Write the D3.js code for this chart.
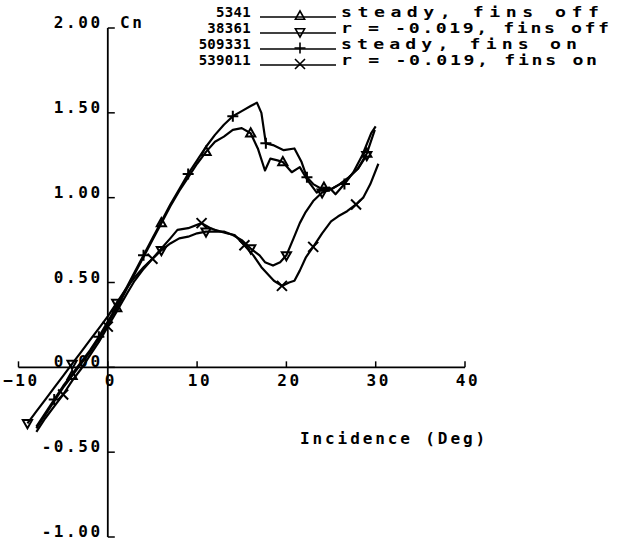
<!DOCTYPE html>
<html>
<head>
<meta charset="utf-8">
<script src="https://cdn.jsdelivr.net/npm/d3@7"></script>
<style>
  html, body { margin: 0; padding: 0; background: #fff; }
  svg { display: block; }
  text { font-family: "DejaVu Sans Mono", "Liberation Mono", monospace; fill: #000; font-weight: bold; }
</style>
</head>
<body>
<svg id="chart" width="624" height="541"></svg>
<script>
// Normal-force coefficient Cn against incidence, four wind-tunnel runs.
// Each series: [incidence (deg), Cn]
const steadyFinsOff = [
  [-8, -0.36], [-7, -0.28], [-6, -0.20], [-5, -0.12], [-4, -0.05], [-3, 0.02],
  [-2, 0.09], [-1, 0.17], [0, 0.26], [1, 0.35], [2, 0.45], [3, 0.55], [4, 0.65],
  [5, 0.75], [6, 0.85], [7, 0.95], [8, 1.04], [9, 1.12], [10, 1.20], [11, 1.27],
  [12, 1.33], [13, 1.36], [14, 1.40], [15, 1.41], [16, 1.38], [16.8, 1.29],
  [17.6, 1.16], [18.2, 1.23], [19, 1.22], [19.6, 1.21], [20.6, 1.15], [21.5, 1.18],
  [22.4, 1.10], [23.4, 1.03], [24.2, 1.06], [25, 1.05], [26, 1.08], [27, 1.12],
  [28, 1.17], [29, 1.26], [29.9, 1.40]
];
const oscFinsOff = [
  [-9, -0.33], [-8, -0.26], [-7, -0.19], [-6, -0.12], [-5, -0.05], [-4, 0.02],
  [-3, 0.09], [-2, 0.16], [-1, 0.23], [0, 0.30], [1, 0.38], [2, 0.46], [3, 0.53],
  [4, 0.59], [5, 0.64], [6, 0.69], [7, 0.73], [8, 0.76], [9, 0.77], [10, 0.79],
  [11, 0.80], [12, 0.80], [13, 0.80], [14, 0.78], [15, 0.75], [16, 0.70],
  [17, 0.66], [17.6, 0.62], [18.5, 0.60], [19.3, 0.62], [20, 0.66], [20.8, 0.76],
  [21.5, 0.85], [22.1, 0.91], [23, 0.98], [24, 1.03], [25, 1.05], [26, 1.08],
  [27, 1.12], [28, 1.17], [29, 1.25]
];
const steadyFinsOn = [
  [-8, -0.35], [-7, -0.27], [-6, -0.19], [-5, -0.11], [-4, -0.04], [-3, 0.03],
  [-2, 0.10], [-1, 0.18], [0, 0.27], [1, 0.36], [2, 0.46], [3, 0.56], [4, 0.66],
  [5, 0.76], [6, 0.86], [7, 0.96], [8, 1.05], [9, 1.14], [10, 1.22], [11, 1.30],
  [12, 1.37], [13, 1.43], [14, 1.48], [15, 1.51], [16, 1.54], [16.7, 1.56],
  [17.2, 1.50], [17.7, 1.32], [18.5, 1.31], [19.7, 1.28], [20.9, 1.29],
  [21.7, 1.21], [22.3, 1.12], [23, 1.08], [24, 1.05], [24.8, 1.06], [25.5, 1.02],
  [26.5, 1.08], [27.5, 1.15], [28.5, 1.25], [29.5, 1.38], [30, 1.42]
];
const oscFinsOn = [
  [-8, -0.38], [-7, -0.30], [-6, -0.23], [-5, -0.16], [-4, -0.08], [-3, -0.01],
  [-2, 0.07], [-1, 0.15], [0, 0.24], [1, 0.33], [2.2, 0.44], [3, 0.51], [4, 0.58],
  [5, 0.64], [6, 0.70], [7, 0.76], [7.8, 0.81], [9, 0.82], [10.5, 0.85],
  [11.5, 0.82], [12, 0.81], [13.3, 0.79], [14.2, 0.78], [15.3, 0.72], [16.3, 0.66],
  [17.2, 0.59], [17.9, 0.55], [18.6, 0.51], [19.5, 0.48], [20.3, 0.50],
  [20.9, 0.51], [21.5, 0.57], [22.2, 0.65], [23, 0.71], [24, 0.79], [25, 0.86],
  [25.8, 0.89], [26.8, 0.92], [27.8, 0.96], [28.6, 1.00], [29.4, 1.08], [30.3, 1.20]
];

const runNumbers = ["5341", "38361", "509331", "539011"];
const runLabels = ["steady, fins off", "r = -0.019, fins off", "steady, fins on", "r = -0.019, fins on"];
const xTickValues = [-10, 0, 10, 20, 30, 40];
const yTickValues = [2, 1.5, 1, 0.5, 0, -0.5, -1];
const yTickLabels = ["2.00", "1.50", "1.00", "0.50", "0.00", "-0.50", "-1.00"];

// Marker glyphs drawn in plotter style
const glyphs = {
  triUp: "M0,-5L4.6,3.2L-4.6,3.2Z",
  triDown: "M0,5L4.6,-3.2L-4.6,-3.2Z",
  plus: "M-5.5,0H5.5M0,-5.5V5.5",
  cross: "M-5,-5L5,5M-5,5L5,-5"
};
const series = [
  { data: steadyFinsOff, glyph: "triUp", offset: 1 },
  { data: oscFinsOff, glyph: "triDown", offset: 0 },
  { data: steadyFinsOn, glyph: "plus", offset: 3 },
  { data: oscFinsOn, glyph: "cross", offset: 2 }
];

const svg = d3.select("#chart");
const x = d3.scaleLinear().domain([-10, 40]).range([18.5, 465]);
const y = d3.scaleLinear().domain([-1, 2]).range([537, 28]);

const ink = "#000";

// Y axis: vertical line with short ticks pointing right
const yAxis = svg.append("g").attr("transform", `translate(${x(0)},0)`);
yAxis.append("line").attr("x1", 0).attr("x2", 0).attr("y1", y(2)).attr("y2", y(-1))
  .attr("stroke", ink).attr("stroke-width", 1.8);
yAxis.selectAll("line.tick").data(yTickValues).join("line").attr("class", "tick")
  .attr("x1", 0).attr("x2", 7).attr("y1", d => y(d)).attr("y2", d => y(d))
  .attr("stroke", ink).attr("stroke-width", 1.5);
yAxis.selectAll("text").data(yTickValues).join("text")
  .attr("x", -5).attr("y", d => y(d))
  .attr("text-anchor", "end").attr("font-size", 16).attr("letter-spacing", 2.6)
  .text((d, i) => yTickLabels[i]);

// X axis through Cn = 0 with short upward ticks
const xAxis = svg.append("g").attr("transform", `translate(0,${y(0)})`);
xAxis.append("line").attr("x1", x(-10)).attr("x2", x(40)).attr("y1", 0).attr("y2", 0)
  .attr("stroke", ink).attr("stroke-width", 1.6);
xAxis.selectAll("line.tick").data(xTickValues).join("line").attr("class", "tick")
  .attr("x1", d => x(d)).attr("x2", d => x(d)).attr("y1", 0).attr("y2", -6)
  .attr("stroke", ink).attr("stroke-width", 1.5);
xAxis.selectAll("text").data(xTickValues).join("text")
  .attr("x", d => x(d) + 3).attr("y", 19)
  .attr("text-anchor", "middle").attr("font-size", 16).attr("letter-spacing", 2.6)
  .text(d => d3.format("d")(d).replace("-", "\u2212"));

// Axis titles
svg.append("text").attr("x", 120).attr("y", y(2)).attr("font-size", 16)
  .attr("letter-spacing", 2.6).text("Cn");
svg.append("text").attr("x", 300).attr("y", 444).attr("font-size", 16)
  .attr("letter-spacing", 2.9).text("Incidence (Deg)");

// Curves
const line = d3.line().x(d => x(d[0])).y(d => y(d[1]));
const plot = svg.append("g");
series.forEach(s => {
  plot.append("path").datum(s.data).attr("d", line)
    .attr("fill", "none").attr("stroke", ink).attr("stroke-width", 2.2)
    .attr("stroke-linejoin", "round");
  plot.selectAll(null).data(s.data.filter((d, i) => (i + s.offset) % 5 === 0)).join("path")
    .attr("transform", d => `translate(${x(d[0])},${y(d[1])})`)
    .attr("d", glyphs[s.glyph])
    .attr("fill", "none").attr("stroke", ink).attr("stroke-width", 2);
});

// Legend: run number, sample line with marker, description (wide plotter lettering)
const legend = svg.append("g");
const rowY = [17, 33, 49, 65];
const labelWidths = [258, 268, 236, 256];
const stretch = 1.3;
series.forEach((s, i) => {
  const g = legend.append("g").attr("transform", `translate(0,${rowY[i]})`);
  g.append("text").attr("x", 251).attr("y", 0).attr("text-anchor", "end")
    .attr("font-size", 14).attr("letter-spacing", 0.3).text(runNumbers[i]);
  g.append("line").attr("x1", 260).attr("x2", 336).attr("y1", 0).attr("y2", 0)
    .attr("stroke", ink).attr("stroke-width", 1.6);
  g.append("path").attr("transform", "translate(300,-1)").attr("d", glyphs[s.glyph])
    .attr("fill", "none").attr("stroke", ink).attr("stroke-width", 1.6);
  g.append("text").attr("transform", `translate(341,0) scale(${stretch},1)`)
    .attr("font-size", 14)
    .attr("textLength", labelWidths[i] / stretch).attr("lengthAdjust", "spacing")
    .text(runLabels[i]);
});
</script>
</body>
</html>
